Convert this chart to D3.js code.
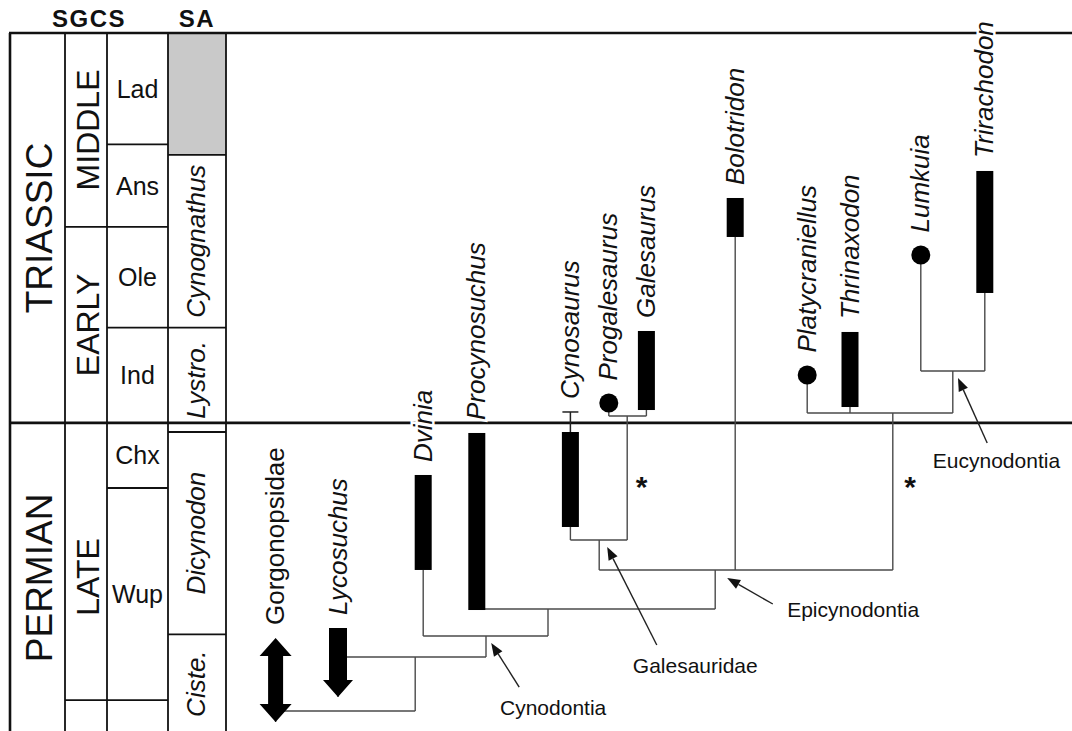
<!DOCTYPE html>
<html>
<head>
<meta charset="utf-8">
<script src="https://cdn.jsdelivr.net/npm/d3@7/dist/d3.min.js"></script>
<style>
body { margin: 0; background: #fff; }
svg text { font-family: "Liberation Sans", Arial, Helvetica, sans-serif; fill: #111; }
</style>
</head>
<body>
<svg id="chart" width="1072" height="731"></svg>
<script>
// levels: 0 = foot of the figure, 100 = top line (relative stratigraphic height)
var periods = [
    {name: "TRIASSIC", top: 100, base: 44.3},
    {name: "PERMIAN", top: 44.3, base: 0}
]
var epochs = [
    {name: "MIDDLE", top: 100, base: 72.3},
    {name: "EARLY", top: 72.3, base: 44.3},
    {name: "LATE", top: 44.3, base: 4.7, labelAt: 22.3},
    {name: "", top: 4.7, base: 0}
]
var stages = [
    {name: "Lad", top: 100, base: 84.1},
    {name: "Ans", top: 84.1, base: 72.3},
    {name: "Ole", top: 72.3, base: 57.9},
    {name: "Ind", top: 57.9, base: 44.3},
    {name: "Chx", top: 44.3, base: 35},
    {name: "Wup", top: 35, base: 4.7},
    {name: "", top: 4.7, base: 0}
]
// South African assemblage zones
var zones = [
    {name: "", top: 100, base: 82.6, unknown: true},
    {name: "Cynognathus", top: 82.6, base: 57.9},
    {name: "Lystro.", top: 57.9, base: 43},
    {name: "Dicynodon", top: 43, base: 14.1},
    {name: "Ciste.", top: 14.1, base: 0}
]
var boundaryPT = 44.3

// taxa: x lane, stratigraphic range, kind of mark, parent node
var taxa = [
    {name: "Gorgonopsidae", x: 4.45, top: 13.57, bottom: 1.57, kind: "both", parent: "root", italic: false},
    {name: "Lycosuchus", x: 12.25, top: 15.0, bottom: 5.14, kind: "down", parent: "nA"},
    {name: "Dvinia", x: 22.9, top: 36.86, bottom: 23.29, kind: "bar", parent: "Cynodontia"},
    {name: "Procynosuchus", x: 29.6, top: 42.86, bottom: 17.57, kind: "bar", parent: "nB"},
    {name: "Cynosaurus", x: 41.3, top: 43.0, bottom: 29.43, ext: 45.86, kind: "bar", parent: "Galesauridae"},
    {name: "Progalesaurus", x: 46.1, top: 47.14, bottom: 47.14, kind: "point", parent: "nD"},
    {name: "Galesaurus", x: 50.8, top: 57.43, bottom: 46.14, kind: "bar", parent: "nD"},
    {name: "Bolotridon", x: 61.9, top: 76.43, bottom: 70.86, kind: "bar", parent: "Epicynodontia"},
    {name: "Platycraniellus", x: 70.9, top: 51.14, bottom: 51.14, kind: "point", parent: "nC"},
    {name: "Thrinaxodon", x: 76.25, top: 57.29, bottom: 46.57, kind: "bar", parent: "nC"},
    {name: "Lumkuia", x: 85.1, top: 68.29, bottom: 68.29, kind: "point", parent: "Eucynodontia"},
    {name: "Trirachodon", x: 93.1, top: 80.29, bottom: 62.86, kind: "bar", parent: "Eucynodontia"}
]

// internal nodes of the tree
var nodes = [
    {id: "root", parent: null, x: null, level: 3.14},
    {id: "nA", parent: "root", x: 21.9, level: 10.86},
    {id: "Cynodontia", parent: "nA", x: 30.75, level: 13.86},
    {id: "nB", parent: "Cynodontia", x: 38.5, level: 17.71},
    {id: "Epicynodontia", parent: "nB", x: 59.4, level: 23.29},
    {id: "Galesauridae", parent: "Epicynodontia", x: 44.9, level: 27.57},
    {id: "nD", parent: "Galesauridae", x: 48.4, level: 45.29},
    {id: "nC", parent: "Epicynodontia", x: 81.6, level: 45.71},
    {id: "Eucynodontia", parent: "nC", x: 89.1, level: 51.71}
]

// clade names with pointer arrows (tip, tail, text start)
var cladeLabels = [
    {name: "Cynodontia", tip: [31.4, 12.86], tail: [34.9, 6.57], text: [32.5, 2.57]},
    {name: "Galesauridae", tip: [45.9, 26.57], tail: [52.1, 12.57], text: [49.1, 8.57]},
    {name: "Epicynodontia", tip: [60.9, 22.14], tail: [66.6, 18.43], text: [68.4, 16.57]},
    {name: "Eucynodontia", tip: [89.75, 50.71], tail: [93.4, 41.43], text: [86.6, 37.86]}
]
var asterisks = [[50.2, 36.14], [83.75, 36.14]]


var svg = d3.select("#chart")
var y = d3.scaleLinear().domain([0, 100]).range([733, 33])
var x = d3.scaleLinear().domain([0, 100]).range([240, 1040])

var leftEdge = 10
var cols = [
    {data: periods, x0: 10, x1: 65, size: 37, italic: false, rotate: true},
    {data: epochs, x0: 65, x1: 107, size: 32, italic: false, rotate: true},
    {data: stages, x0: 107, x1: 168, size: 25, italic: false, rotate: false},
    {data: zones, x0: 168, x1: 226, size: 26, italic: true, rotate: true}
]

// ---- stratigraphic columns ----
var strat = svg.append("g")

cols.forEach(function(c) {
    c.data.forEach(function(u) {
        if (u.unknown) {
            strat.append("rect")
                .attr("x", c.x0).attr("y", y(u.top))
                .attr("width", c.x1 - c.x0).attr("height", y(u.base) - y(u.top))
                .attr("fill", "#c9c9c9")
        }
    })
})

cols.forEach(function(c) {
    c.data.forEach(function(u) {
        if (u.base > 0) {
            strat.append("line")
                .attr("x1", c.x0).attr("x2", c.x1)
                .attr("y1", y(u.base)).attr("y2", y(u.base))
                .attr("stroke", "#111").attr("stroke-width", 1.8)
        }
        if (!u.name) return
        var mid = u.labelAt !== undefined ? u.labelAt : (u.top + u.base) / 2
        var cx = (c.x0 + c.x1) / 2
        var t = strat.append("text")
            .attr("font-size", c.size)
            .attr("font-style", c.italic ? "italic" : "normal")
            .attr("text-anchor", "middle")
            .text(u.name)
        if (c.rotate) {
            t.attr("transform", "translate(" + cx + "," + y(mid) + ") rotate(-90)")
                .attr("dy", c.italic ? "0.3em" : "0.4em")
        } else {
            t.attr("x", cx).attr("y", y(mid)).attr("dy", "0.36em")
        }
    })
})

// vertical column rules
;[leftEdge, 65, 107, 168, 226].forEach(function(vx, i) {
    strat.append("line")
        .attr("x1", vx).attr("x2", vx)
        .attr("y1", y(100)).attr("y2", y(0))
        .attr("stroke", "#111").attr("stroke-width", i === 0 ? 2.6 : 1.8)
})

// top line and Permian-Triassic boundary
;[100, boundaryPT].forEach(function(lv) {
    strat.append("line")
        .attr("x1", leftEdge - 1).attr("x2", 1072)
        .attr("y1", y(lv)).attr("y2", y(lv))
        .attr("stroke", "#111").attr("stroke-width", 2.6)
})

// column headers
svg.append("text").attr("x", 89).attr("y", 27).attr("text-anchor", "middle")
    .attr("font-size", 24).attr("font-weight", "bold").attr("letter-spacing", 1.5).text("SGCS")
svg.append("text").attr("x", 197).attr("y", 27).attr("text-anchor", "middle")
    .attr("font-size", 24).attr("font-weight", "bold").attr("letter-spacing", 1.5).text("SA")

// ---- tree ----
var tree = svg.append("g")
var lineColor = "#4a4a4a"

nodes.forEach(function(n) {
    var kids = taxa.filter(function(t) { return t.parent === n.id })
        .concat(nodes.filter(function(m) { return m.parent === n.id }))
    var xs = kids.map(function(k) { return x(k.x) })
    tree.append("line")
        .attr("x1", d3.min(xs)).attr("x2", d3.max(xs))
        .attr("y1", y(n.level)).attr("y2", y(n.level))
        .attr("stroke", lineColor).attr("stroke-width", 1.4)
    kids.forEach(function(k) {
        var from = k.level !== undefined ? k.level : k.bottom
        tree.append("line")
            .attr("x1", x(k.x)).attr("x2", x(k.x))
            .attr("y1", y(from)).attr("y2", y(n.level))
            .attr("stroke", lineColor).attr("stroke-width", 1.4)
    })
})

// ---- taxon ranges ----
var marks = svg.append("g")
taxa.forEach(function(t) {
    var cx = x(t.x), yt = y(t.top), yb = y(t.bottom)
    if (t.kind === "bar") {
        marks.append("rect")
            .attr("x", cx - 8.5).attr("y", yt)
            .attr("width", 17).attr("height", yb - yt)
            .attr("fill", "#000")
        if (t.ext !== undefined) {
            marks.append("line").attr("x1", cx).attr("x2", cx)
                .attr("y1", y(t.ext)).attr("y2", yt)
                .attr("stroke", "#222").attr("stroke-width", 1.5)
            marks.append("line").attr("x1", cx - 8).attr("x2", cx + 8)
                .attr("y1", y(t.ext)).attr("y2", y(t.ext))
                .attr("stroke", "#222").attr("stroke-width", 1.5)
        }
    } else if (t.kind === "point") {
        marks.append("circle").attr("cx", cx).attr("cy", yt).attr("r", 9.5).attr("fill", "#000")
    } else if (t.kind === "down") {
        var sw = 9, hw = 15, h = 17
        marks.append("path").attr("fill", "#000").attr("d",
            "M" + (cx - sw) + "," + yt + "L" + (cx + sw) + "," + yt +
            "L" + (cx + sw) + "," + (yb - h) + "L" + (cx + hw) + "," + (yb - h) +
            "L" + cx + "," + yb + "L" + (cx - hw) + "," + (yb - h) +
            "L" + (cx - sw) + "," + (yb - h) + "Z")
    } else if (t.kind === "both") {
        var sw2 = 7.5, hw2 = 16, h2 = 18
        marks.append("path").attr("fill", "#000").attr("d",
            "M" + cx + "," + yt + "L" + (cx + hw2) + "," + (yt + h2) +
            "L" + (cx + sw2) + "," + (yt + h2) + "L" + (cx + sw2) + "," + (yb - h2) +
            "L" + (cx + hw2) + "," + (yb - h2) + "L" + cx + "," + yb +
            "L" + (cx - hw2) + "," + (yb - h2) + "L" + (cx - sw2) + "," + (yb - h2) +
            "L" + (cx - sw2) + "," + (yt + h2) + "L" + (cx - hw2) + "," + (yt + h2) + "Z")
    }
    // label sits above the highest part of the mark
    var topPx = t.ext !== undefined ? y(t.ext) : (t.kind === "point" ? yt - 9.5 : yt)
    marks.append("text")
        .attr("transform", "translate(" + cx + "," + (topPx - 13) + ") rotate(-90)")
        .attr("dy", "0.33em")
        .attr("font-size", 26)
        .attr("font-style", t.italic === false ? "normal" : "italic")
        .attr("stroke", "#fff").attr("stroke-width", 5).attr("paint-order", "stroke")
        .text(t.name)
})

// ---- clade labels ----
var notes = svg.append("g")
cladeLabels.forEach(function(c) {
    var tx = x(c.tip[0]), ty = y(c.tip[1]), sx = x(c.tail[0]), sy = y(c.tail[1])
    var ang = Math.atan2(ty - sy, tx - sx)
    var len = 13, half = 5
    var bx = tx - len * Math.cos(ang), by = ty - len * Math.sin(ang)
    notes.append("line").attr("x1", sx).attr("y1", sy).attr("x2", bx).attr("y2", by)
        .attr("stroke", "#222").attr("stroke-width", 1.4)
    notes.append("path").attr("fill", "#111").attr("d",
        "M" + tx + "," + ty +
        "L" + (bx + half * Math.sin(ang)) + "," + (by - half * Math.cos(ang)) +
        "L" + (bx - half * Math.sin(ang)) + "," + (by + half * Math.cos(ang)) + "Z")
    notes.append("text").attr("x", x(c.text[0])).attr("y", y(c.text[1]))
        .attr("font-size", 21).text(c.name)
})

asterisks.forEach(function(a) {
    notes.append("text").attr("x", x(a[0])).attr("y", y(a[1]) + 17)
        .attr("text-anchor", "middle").attr("font-size", 30).attr("font-weight", "bold").text("*")
})
</script>
</body>
</html>
